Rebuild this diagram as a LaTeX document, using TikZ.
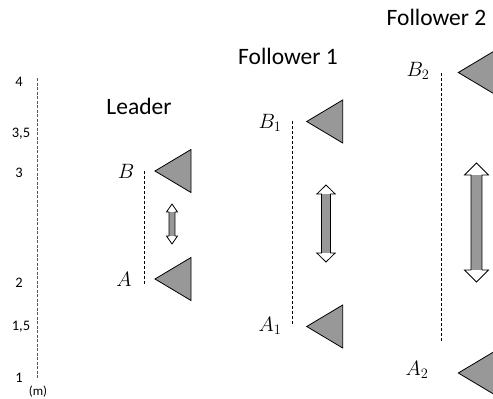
\documentclass[tikz,border=0pt]{standalone}
\usepackage{fontspec}
\setmainfont{Carlito}
\definecolor{trigray}{RGB}{152,152,152}
\definecolor{axisgray}{RGB}{90,90,90}
\newcommand\dblarrpath[6]{%
    (#1,#2) -- ({#1+#4},{#2+#5}) -- ({#1+#6},{#2+#5}) -- ({#1+#6},{#3-#5})
    -- ({#1+#4},{#3-#5}) -- (#1,#3) -- ({#1-#4},{#3-#5}) -- ({#1-#6},{#3-#5})
    -- ({#1-#6},{#2+#5}) -- ({#1-#4},{#2+#5}) -- cycle}
\newcommand\dblarr[6]{%
  \fill[white] \dblarrpath{#1}{#2}{#3}{#4}{#5}{#6};
  \fill[trigray] ({#1-#6},{#2+#5}) rectangle ({#1+#6},{#3-#5});
  \draw[line width=0.8pt, line join=miter] \dblarrpath{#1}{#2}{#3}{#4}{#5}{#6};}
\begin{document}
\begin{tikzpicture}[x=1pt,y=-1pt,
  tri/.style={fill=trigray, draw=black, line width=0.8pt, line join=miter},
  guide/.style={dash pattern=on 3pt off 2pt, line width=0.7pt},
  axisline/.style={dash pattern=on 3pt off 1.5pt, line width=0.9pt, draw=axisgray},
  title/.style={font=\fontsize{23.5}{27}\selectfont},
  tick/.style={font=\fontsize{14.5}{16}\selectfont},
  unit/.style={font=\fontsize{13}{15}\selectfont},
  ptlabel/.style={font=\fontsize{21}{24}\selectfont},
  marker/.pic={\draw[tri] (0,0) -- (36,-21.5) -- (36,21.5) -- cycle;}]
\useasboundingbox (0,0) rectangle (493,399);
\clip (0,0) rectangle (493,399);

% axis
\coordinate (ax1) at (37,78);
\coordinate (ax2) at (37,378);
\draw[axisline] (ax1) -- (ax2);
\node[tick] (t4) at (19,82) {4};
\node[tick] (t35) at (21,134) {3,5};
\node[tick] (t3) at (19,173) {3};
\node[tick] (t2) at (19,283) {2};
\node[tick] (t15) at (21,327) {1,5};
\node[tick] (t1) at (19,378) {1};
\node[unit] (m) at (38,392) {(m)};

% Leader
\node[title] (lead) at (139,106) {Leader};
\node[ptlabel] (B) at (126,171) {$B$};
\node[ptlabel] (A) at (124,279) {$A$};
\coordinate (lB) at (144,171);
\coordinate (lA) at (144,284);
\draw[guide] (lB) -- (lA);
\pic at (155,171) {marker};
\pic at (155,279) {marker};
\dblarr{172}{204}{244}{5.5}{8}{3}

% Follower 1
\node[title] (f1) at (288,56) {Follower 1};
\node[ptlabel] (B1) at (270,123) {$B_1$};
\node[ptlabel] (A1) at (270,326) {$A_1$};
\coordinate (f1B) at (292,121);
\coordinate (f1A) at (292,326);
\draw[guide] (f1B) -- (f1A);
\pic at (306.7,121.5) {marker};
\pic at (306.7,326.5) {marker};
\dblarr{326}{185}{262}{9.2}{9}{4.5}

% Follower 2
\node[title] (f2) at (436.5,17) {Follower 2};
\node[ptlabel] (B2) at (418,71) {$B_2$};
\node[ptlabel] (A2) at (417,370) {$A_2$};
\coordinate (f2B) at (441,73);
\coordinate (f2A) at (441,342);
\draw[guide] (f2B) -- (f2A);
\pic at (458.3,72.5) {marker};
\pic at (458.3,373) {marker};
\dblarr{476.5}{163}{282}{12}{12}{5.5}
\end{tikzpicture}
\end{document}
